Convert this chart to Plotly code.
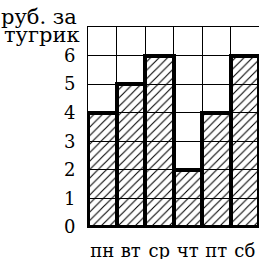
import plotly.graph_objects as go

days = ["пн", "вт", "ср", "чт", "пт", "сб"]
rates = [4, 5, 6, 2, 4, 6]
y_ticks = [0, 1, 2, 3, 4, 5, 6]
y_title_lines = ["руб. за", "тугрик"]

FONT = "DejaVu Serif"

fig = go.Figure(go.Bar(
    x=days, y=rates, width=1,
    marker=dict(
        color="black",
        line=dict(color="black", width=4),
        pattern=dict(shape="/", size=6, solidity=0.18,
                     fgcolor="black", bgcolor="rgba(0,0,0,0)", fillmode="replace"),
    ),
))

fig.update_layout(
    width=259, height=259,
    margin=dict(l=88, r=0, t=27, b=32),
    paper_bgcolor="white", plot_bgcolor="white",
    showlegend=False, bargap=0,
    font=dict(family=FONT, color="black"),
    annotations=[
        dict(text=y_title_lines[0], xref="paper", yref="paper",
             x=-0.05, y=1.05, xanchor="right", yanchor="middle",
             showarrow=False, font=dict(family=FONT, size=21, color="black")),
        dict(text=y_title_lines[1], xref="paper", yref="paper",
             x=-0.035, y=0.962, xanchor="right", yanchor="middle",
             showarrow=False, font=dict(family=FONT, size=21, color="black")),
    ],
)
fig.update_xaxes(
    type="category", range=[-0.5, 5.5], tickson="boundaries",
    showgrid=True, gridcolor="black", gridwidth=1,
    ticks="", tickangle=0, automargin=False,
    tickfont=dict(family=FONT, size=18), ticklabelstandoff=7,
    showline=True, linecolor="black", linewidth=1, mirror=True,
)
fig.update_yaxes(
    range=[0, 7], tickvals=y_ticks, ticktext=[str(v) for v in y_ticks],
    showgrid=True, gridcolor="black", gridwidth=1, zeroline=False,
    ticks="", automargin=False,
    tickfont=dict(family=FONT, size=18), ticklabelstandoff=8,
    showline=True, linecolor="black", linewidth=1, mirror=True,
)

fig.write_html("out.html", config={"displayModeBar": False},
               post_script="document.body.style.margin='0';")
